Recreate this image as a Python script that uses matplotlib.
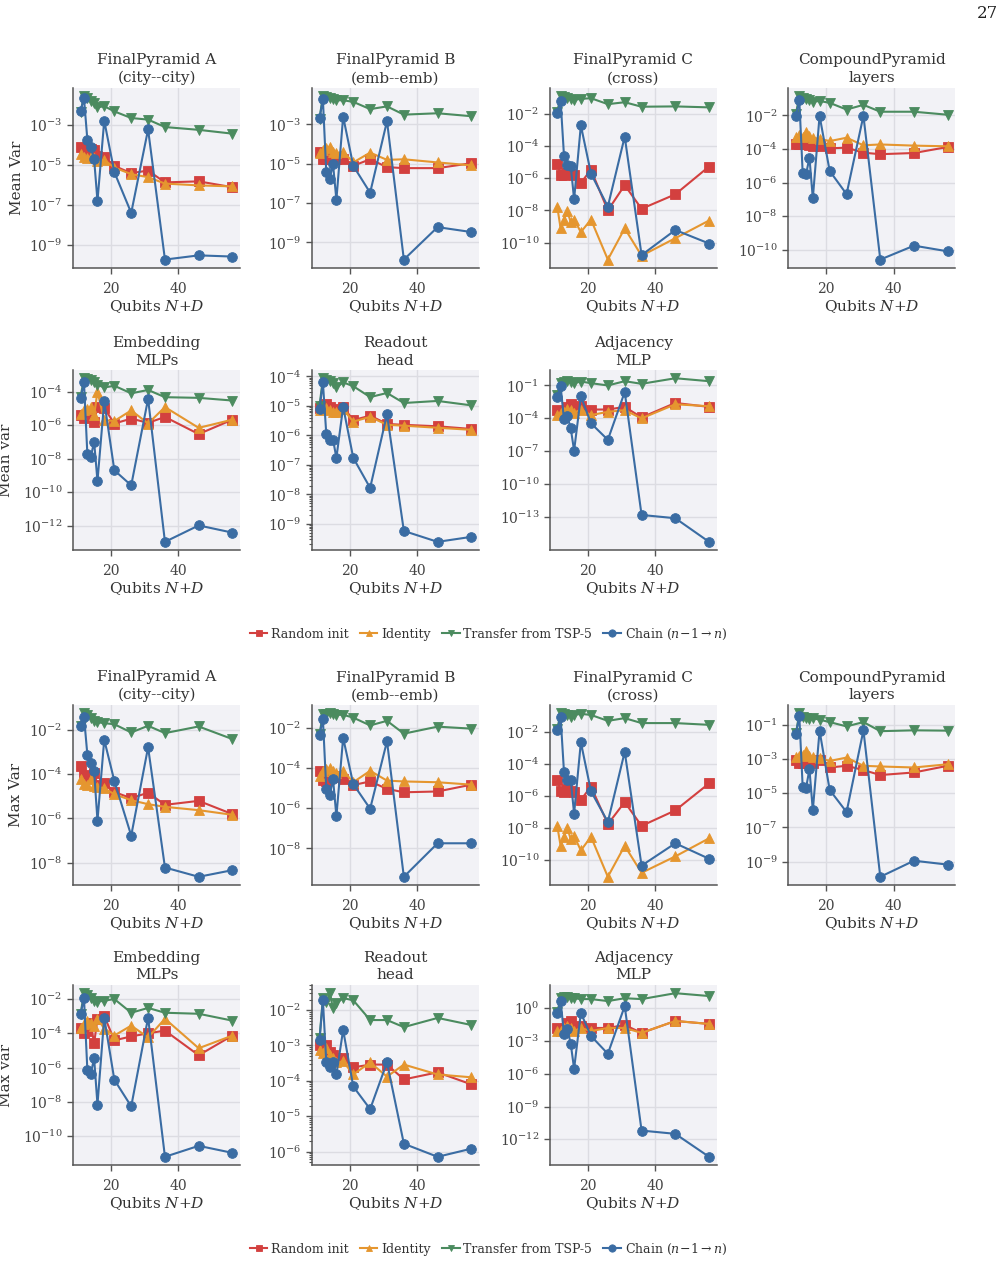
import numpy as np
import matplotlib
matplotlib.use("Agg")
import matplotlib.pyplot as plt
from matplotlib.ticker import FixedLocator, LogFormatterSciNotation, NullLocator, LogLocator

plt.rcParams['font.family'] = ['DejaVu Serif']
plt.rcParams['mathtext.fontset'] = 'dejavuserif'

qubits = [11, 12, 13, 14, 15, 16, 18, 21, 26, 31, 36, 46, 56]

# values are log10 of the variance
# --- Mean Var ---
mA_rand = [-4.10, -4.26, -4.34, -4.21, -4.26, -4.55, -4.59, -5.05, -5.41, -5.28, -5.87, -5.82, -6.11]
mA_ident = [-4.43, -4.62, -4.67, -4.59, -4.67, -4.79, -4.75, -5.13, -5.46, -5.61, -5.93, -6.02, -6.07]
mA_tsp = [-2.35, -1.56, -1.64, -1.80, -1.93, -2.13, -2.07, -2.33, -2.66, -2.74, -3.11, -3.25, -3.44]
mA_chain = [-2.30, -1.67, -3.74, -4.13, -4.70, -6.80, -2.79, -5.36, -7.39, -3.23, -9.72, -9.51, -9.57]

mB_rand = [-4.38, -4.77, -4.75, -4.67, -4.75, -4.77, -4.75, -5.10, -4.77, -5.17, -5.22, -5.22, -4.97]
mB_ident = [-4.47, -4.30, -4.22, -4.13, -4.38, -4.47, -4.38, -4.93, -4.43, -4.80, -4.77, -4.93, -5.08]
mB_tsp = [-2.70, -1.55, -1.60, -1.67, -1.73, -1.77, -1.77, -1.85, -2.22, -2.08, -2.50, -2.43, -2.58]
mB_chain = [-2.68, -1.72, -5.43, -5.77, -5.02, -6.83, -2.60, -5.10, -6.47, -2.83, -9.87, -8.22, -8.47]

mC_rand = [-5.14, -5.78, -5.78, -5.67, -5.71, -5.78, -6.29, -5.47, -8.00, -6.43, -7.90, -7.00, -5.27]
mC_ident = [-7.76, -9.12, -8.57, -8.06, -8.73, -8.57, -9.35, -8.57, -11.06, -9.12, -10.82, -9.73, -8.63]
mC_tsp = [-1.90, -0.88, -0.92, -0.98, -1.06, -1.12, -1.06, -1.02, -1.39, -1.27, -1.55, -1.53, -1.59]
mC_chain = [-1.94, -1.18, -4.59, -5.20, -5.24, -7.31, -2.71, -5.71, -7.76, -3.41, -10.78, -9.22, -10.06]

mD_rand = [-3.69, -3.73, -3.69, -3.73, -3.78, -3.80, -3.84, -3.96, -3.92, -4.22, -4.31, -4.24, -3.88]
mD_ident = [-3.29, -3.14, -3.29, -3.00, -3.24, -3.33, -3.39, -3.53, -3.33, -3.78, -3.73, -3.80, -3.84]
mD_tsp = [-1.90, -0.84, -0.94, -1.00, -1.10, -1.18, -1.14, -1.25, -1.65, -1.37, -1.78, -1.78, -1.96]
mD_chain = [-2.02, -1.10, -5.45, -5.51, -4.51, -6.94, -2.02, -5.31, -6.69, -2.02, -10.59, -9.76, -10.10]

mE_rand = [-5.37, -5.55, -5.47, -5.35, -5.80, -4.92, -4.98, -5.90, -5.61, -5.86, -5.51, -6.53, -5.67]
mE_ident = [-5.31, -5.12, -5.02, -4.92, -5.41, -4.00, -5.70, -5.75, -5.12, -5.90, -4.92, -6.16, -5.67]
mE_tsp = [-4.30, -3.20, -3.25, -3.31, -3.45, -3.59, -3.75, -3.65, -4.10, -3.90, -4.33, -4.37, -4.53]
mE_chain = [-4.37, -3.45, -7.73, -7.92, -6.98, -9.33, -4.57, -8.69, -9.59, -4.43, -12.96, -11.98, -12.41]

mR_rand = [-5.06, -5.00, -4.94, -5.02, -5.11, -5.17, -5.03, -5.48, -5.33, -5.61, -5.64, -5.69, -5.78]
mR_ident = [-5.14, -5.11, -5.06, -5.14, -5.19, -5.22, -5.11, -5.53, -5.37, -5.64, -5.67, -5.74, -5.81]
mR_tsp = [-5.00, -4.06, -4.11, -4.14, -4.22, -4.37, -4.20, -4.33, -4.70, -4.56, -4.90, -4.83, -4.98]
mR_chain = [-5.09, -4.20, -5.94, -6.14, -6.14, -6.76, -5.03, -6.76, -7.78, -5.28, -9.24, -9.61, -9.44]

mJ_rand = [-3.26, -3.50, -3.29, -2.96, -2.66, -3.20, -2.90, -3.20, -3.20, -2.96, -3.92, -2.60, -2.96]
mJ_ident = [-3.71, -3.56, -3.41, -3.11, -3.20, -3.50, -3.20, -3.71, -3.41, -3.26, -4.01, -2.72, -2.90]
mJ_tsp = [-1.90, -0.79, -0.64, -0.55, -0.64, -0.79, -0.64, -0.79, -1.00, -0.61, -0.85, -0.34, -0.61]
mJ_chain = [-2.05, -1.06, -4.10, -3.80, -4.92, -6.96, -1.99, -4.46, -5.97, -1.60, -12.84, -13.14, -15.30]

# --- Max Var ---
xA_rand = [-3.64, -4.10, -4.15, -4.03, -3.94, -4.49, -4.39, -4.81, -5.09, -4.84, -5.39, -5.21, -5.81]
xA_ident = [-4.24, -4.46, -4.49, -4.24, -4.54, -4.58, -4.64, -4.91, -5.18, -5.36, -5.48, -5.63, -5.84]
xA_tsp = [-1.85, -1.25, -1.33, -1.45, -1.60, -1.66, -1.70, -1.75, -2.12, -1.82, -2.15, -1.85, -2.42]
xA_chain = [-1.82, -1.40, -3.12, -3.49, -3.87, -6.10, -2.45, -4.31, -6.78, -2.79, -8.22, -8.64, -8.34]

xB_rand = [-4.13, -4.59, -4.62, -4.46, -4.38, -4.46, -4.54, -4.84, -4.66, -5.03, -5.20, -5.16, -4.82]
xB_ident = [-4.38, -4.16, -4.05, -3.97, -4.16, -4.26, -4.13, -4.70, -4.13, -4.62, -4.66, -4.70, -4.82]
xB_tsp = [-2.30, -1.30, -1.30, -1.26, -1.31, -1.34, -1.34, -1.48, -1.87, -1.64, -2.28, -1.93, -2.03]
xB_chain = [-2.33, -1.54, -5.03, -5.36, -4.54, -6.39, -2.49, -4.79, -6.02, -2.66, -9.41, -7.74, -7.74]

xC_rand = [-4.99, -5.65, -5.71, -5.55, -5.65, -5.71, -6.23, -5.40, -7.75, -6.37, -7.86, -6.89, -5.20]
xC_ident = [-7.86, -9.11, -8.54, -7.98, -8.70, -8.49, -9.40, -8.54, -11.05, -9.11, -10.80, -9.77, -8.64]
xC_tsp = [-1.80, -0.80, -0.84, -0.91, -1.01, -0.91, -0.84, -0.91, -1.28, -1.11, -1.42, -1.42, -1.53]
xC_chain = [-1.84, -1.05, -4.47, -4.99, -4.99, -7.09, -2.62, -5.69, -7.61, -3.22, -10.35, -8.95, -9.92]

xD_rand = [-3.06, -3.21, -3.21, -3.17, -3.12, -3.21, -3.08, -3.50, -3.40, -3.65, -3.94, -3.79, -3.40]
xD_ident = [-2.88, -2.83, -2.79, -2.54, -2.83, -2.88, -2.94, -3.12, -2.92, -3.40, -3.44, -3.50, -3.31]
xD_tsp = [-1.50, -0.33, -0.58, -0.62, -0.65, -0.62, -0.71, -0.85, -1.10, -0.85, -1.38, -1.33, -1.35]
xD_chain = [-1.52, -0.52, -4.65, -4.69, -3.60, -6.00, -1.35, -4.81, -6.10, -1.33, -9.88, -8.94, -9.17]

xE_rand = [-3.67, -4.00, -3.84, -3.38, -4.59, -3.15, -2.98, -4.41, -4.18, -4.00, -3.84, -5.28, -4.13]
xE_ident = [-3.67, -3.43, -3.26, -3.38, -3.55, -3.15, -3.72, -4.13, -3.55, -4.24, -3.15, -4.87, -4.13]
xE_tsp = [-2.85, -1.66, -1.78, -1.94, -2.10, -2.15, -2.10, -2.00, -2.80, -2.52, -2.80, -2.86, -3.26]
xE_chain = [-2.86, -1.94, -6.14, -6.37, -5.45, -8.15, -3.09, -6.71, -8.26, -3.09, -11.20, -10.56, -10.97]

xR_rand = [-2.98, -3.12, -2.98, -3.18, -3.26, -3.34, -3.34, -3.62, -3.54, -3.54, -3.96, -3.76, -4.10]
xR_ident = [-3.12, -3.20, -3.06, -3.26, -3.34, -3.48, -3.45, -3.82, -3.48, -3.88, -3.54, -3.82, -3.90]
xR_tsp = [-2.80, -1.66, -1.78, -1.52, -1.94, -1.80, -1.66, -1.72, -2.28, -2.28, -2.48, -2.22, -2.42]
xR_chain = [-2.84, -1.72, -3.46, -3.62, -3.46, -3.82, -2.56, -4.16, -4.80, -3.48, -5.78, -6.15, -5.92]

xJ_rand = [-1.82, -2.10, -1.91, -1.36, -1.18, -1.82, -1.64, -1.82, -1.82, -1.55, -2.27, -1.18, -1.45]
xJ_ident = [-2.10, -2.10, -1.82, -1.64, -1.82, -2.10, -1.82, -2.10, -1.82, -1.82, -2.27, -1.18, -1.45]
xJ_tsp = [-0.40, 0.90, 1.00, 1.00, 0.90, 0.90, 0.82, 0.82, 0.64, 0.90, 0.82, 1.36, 1.10]
xJ_chain = [-0.45, 0.64, -2.36, -1.90, -3.27, -5.55, -0.45, -2.55, -4.18, 0.18, -11.20, -11.50, -13.60]

titles = ["FinalPyramid A\n(city--city)", "FinalPyramid B\n(emb--emb)", "FinalPyramid C\n(cross)",
          "CompoundPyramid\nlayers", "Embedding\nMLPs", "Readout\nhead", "Adjacency\nMLP"]
labels = ["Random init", "Identity", "Transfer from TSP-5", r"Chain $(n\!-\!1 \to n)$"]
colors = ["#d3403f", "#e5962f", "#4b8b5f", "#3a6ca3"]
markers = ["s", "^", "v", "o"]

mean_ticks = [[-9, -7, -5, -3], [-9, -7, -5, -3], [-10, -8, -6, -4, -2], [-10, -8, -6, -4, -2],
              [-12, -10, -8, -6, -4], [-9, -8, -7, -6, -5, -4], [-13, -10, -7, -4, -1]]
max_ticks = [[-8, -6, -4, -2], [-8, -6, -4, -2], [-10, -8, -6, -4, -2], [-9, -7, -5, -3, -1],
             [-10, -8, -6, -4, -2], [-6, -5, -4, -3, -2], [-12, -9, -6, -3, 0]]

mean_data = [(mA_rand, mA_ident, mA_tsp, mA_chain), (mB_rand, mB_ident, mB_tsp, mB_chain),
             (mC_rand, mC_ident, mC_tsp, mC_chain), (mD_rand, mD_ident, mD_tsp, mD_chain),
             (mE_rand, mE_ident, mE_tsp, mE_chain), (mR_rand, mR_ident, mR_tsp, mR_chain),
             (mJ_rand, mJ_ident, mJ_tsp, mJ_chain)]
max_data = [(xA_rand, xA_ident, xA_tsp, xA_chain), (xB_rand, xB_ident, xB_tsp, xB_chain),
            (xC_rand, xC_ident, xC_tsp, xC_chain), (xD_rand, xD_ident, xD_tsp, xD_chain),
            (xE_rand, xE_ident, xE_tsp, xE_chain), (xR_rand, xR_ident, xR_tsp, xR_chain),
            (xJ_rand, xJ_ident, xJ_tsp, xJ_chain)]

fig = plt.figure(figsize=(10.03, 12.63), dpi=100)

col_left = [0.0728, 0.311, 0.548, 0.786]
ax_w, ax_h = 0.1665, 0.1425


def draw(ax, title, series, ticks, ylabel=None, ypad=4):
    ax.set_facecolor("#f2f2f6")
    for vals, c, m, lab in zip(series, colors, markers, labels):
        ms = 7 if m == "o" else 6.5
        ax.plot(qubits, 10.0 ** np.array(vals), color=c, marker=m, ms=ms, lw=1.5,
                mec=c, mew=0.6, label=lab)
    ax.set_yscale("log")
    ax.yaxis.set_major_locator(FixedLocator([10.0 ** e for e in ticks]))
    ax.yaxis.set_major_formatter(LogFormatterSciNotation())
    if ticks[1] - ticks[0] == 1:
        ax.yaxis.set_minor_locator(LogLocator(subs=np.arange(2, 10)))
    else:
        ax.yaxis.set_minor_locator(NullLocator())
    ax.set_xticks([20, 40])
    ax.grid(True, color="#dcdce2", lw=1.0)
    ax.set_axisbelow(True)
    for s in ["top", "right"]:
        ax.spines[s].set_visible(False)
    for s in ["left", "bottom"]:
        ax.spines[s].set_color("#555555")
        ax.spines[s].set_linewidth(1.1)
    ax.tick_params(axis="both", which="major", labelsize=10, colors="#555555",
                   labelcolor="#444444", length=4, width=1)
    ax.tick_params(axis="x", which="major", pad=6)
    ax.tick_params(axis="y", which="minor", colors="#555555", length=2.5, width=0.8)
    ax.set_title(title, fontsize=11, color="#333333", pad=4, linespacing=1.35)
    ax.set_xlabel("Qubits $N{+}D$", fontsize=11, color="#333333", labelpad=2)
    if ylabel:
        ax.set_ylabel(ylabel, fontsize=11, color="#333333", labelpad=ypad)


row_bottoms = [0.788, 0.5645, 0.2993, 0.0776]
blocks = [(mean_data, mean_ticks, "Mean Var", "Mean var", 0),
          (max_data, max_ticks, "Max Var", "Max var", 2)]
for data, ticks, lab1, lab2, r0 in blocks:
    for i in range(7):
        row = r0 + i // 4
        col = i % 4
        ax = fig.add_axes([col_left[col], row_bottoms[row], ax_w, ax_h])
        ylab = None
        ypad = 4
        if col == 0:
            ylab = lab1 if i == 0 else lab2
            ypad = 4 if i == 0 else 7
        draw(ax, titles[i], data[i], ticks[i], ylab, ypad)
        if i == 0:
            handles, labs = ax.get_legend_handles_labels()
    leg_y = 0.498 if r0 == 0 else 0.011
    fig.legend(handles, labs, loc="center", bbox_to_anchor=(0.487, leg_y), ncol=4,
               frameon=False, fontsize=9, handlelength=1.4, columnspacing=0.9,
               handletextpad=0.3, markerscale=0.75, labelcolor="#333333")

fig.text(0.995, 0.989, "27", ha="right", va="center", fontsize=12, color="#222222")

fig.savefig("out.png", dpi=100)
